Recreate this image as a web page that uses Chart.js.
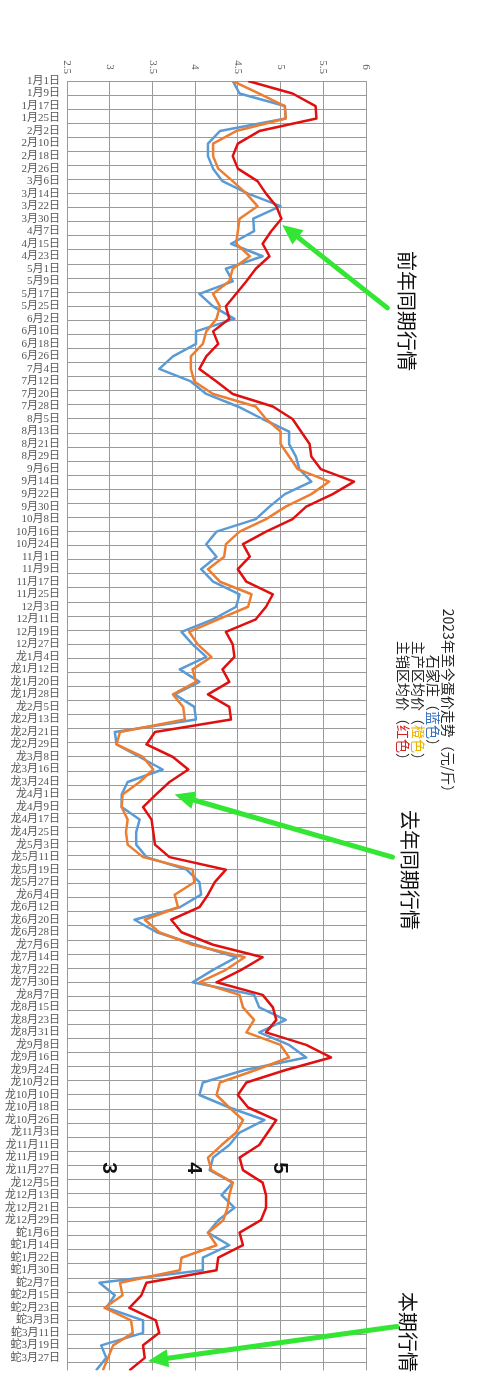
<!DOCTYPE html>
<html>
<head>
<meta charset="utf-8">
<script src="https://cdn.jsdelivr.net/npm/chart.js@4.4.1/dist/chart.umd.min.js"></script>
<style>
  html, body { margin: 0; padding: 0; background: #fff; }
  canvas { display: block; }
</style>
</head>
<body>
<canvas id="chart" width="500" height="1384"></canvas>
<script>
// tick labels, one every 8 days
const dayLabels = [
  '1月1日','1月9日','1月17日','1月25日','2月2日','2月10日','2月18日','2月26日','3月6日','3月14日','3月22日','3月30日',
  '4月7日','4月15日','4月23日','5月1日','5月9日','5月17日','5月25日','6月2日','6月10日','6月18日','6月26日','7月4日','7月12日',
  '7月20日','7月28日','8月5日','8月13日','8月21日','8月29日','9月6日','9月14日','9月22日','9月30日','10月8日','10月16日','10月24日',
  '11月1日','11月9日','11月17日','11月25日','12月3日','12月11日','12月19日','12月27日','龙1月4日','龙1月12日','龙1月20日','龙1月28日','龙2月5日','龙2月13日',
  '龙2月21日','龙2月29日','龙3月8日','龙3月16日','龙3月24日','龙4月1日','龙4月9日','龙4月17日','龙4月25日','龙5月3日','龙5月11日','龙5月19日','龙5月27日',
  '龙6月4日','龙6月12日','龙6月20日','龙6月28日','龙7月6日','龙7月14日','龙7月22日','龙7月30日','龙8月7日','龙8月15日','龙8月23日','龙8月31日','龙9月8日',
  '龙9月16日','龙9月24日','龙10月2日','龙10月10日','龙10月18日','龙10月26日','龙11月3日','龙11月11日','龙11月19日','龙11月27日','龙12月5日','龙12月13日','龙12月21日',
  '龙12月29日','蛇1月6日','蛇1月14日','蛇1月22日','蛇1月30日','蛇2月7日','蛇2月15日','蛇2月23日','蛇3月3日','蛇3月11日','蛇3月19日','蛇3月27日'
];
const xTicks = [2.5, 3, 3.5, 4, 4.5, 5, 5.5, 6];

// 石家庄 (蓝色)
const blue = [
  4.44,4.52,5.05,5.06,4.29,4.15,4.15,4.21,4.32,4.62,5.0,4.68,
  4.69,4.42,4.79,4.36,4.44,4.05,4.21,4.46,4.01,4.01,3.74,3.58,3.95,
  4.13,4.5,4.79,5.1,5.1,5.18,5.22,5.36,5.05,4.87,4.71,4.25,4.13,
  4.25,4.07,4.21,4.52,4.48,4.21,3.84,3.97,4.13,3.82,4.05,3.76,3.99,4.01,
  3.06,3.08,3.35,3.62,3.21,3.14,3.14,3.35,3.31,3.31,3.43,3.9,4.05,
  4.07,3.82,3.29,3.55,4.01,4.48,4.21,3.97,4.69,4.75,5.06,4.75,5.1,
  5.3,4.58,4.09,4.05,4.4,4.81,4.52,4.4,4.21,4.17,4.44,4.31,4.46,
  4.27,4.15,4.4,4.09,4.09,2.88,3.06,2.96,3.39,3.39,2.9,2.96,2.84
];
// 主产区均价 (橙色)
const orange = [
  4.44,4.75,5.05,5.06,4.48,4.21,4.21,4.27,4.44,4.6,4.73,4.52,
  4.5,4.48,4.64,4.44,4.4,4.21,4.29,4.25,4.13,4.09,3.95,3.95,3.99,
  4.21,4.71,4.83,5.0,5.0,5.1,5.2,5.57,5.36,5.06,4.83,4.52,4.36,
  4.34,4.15,4.29,4.66,4.62,4.27,3.93,4.03,4.19,3.97,4.01,3.74,3.86,3.88,
  3.12,3.08,3.39,3.51,3.35,3.15,3.14,3.21,3.19,3.21,3.39,3.97,3.99,
  3.76,3.8,3.41,3.58,3.97,4.58,4.36,4.05,4.52,4.56,4.69,4.6,5.0,
  5.1,4.71,4.29,4.25,4.4,4.56,4.48,4.31,4.15,4.19,4.44,4.4,4.38,
  4.33,4.15,4.25,3.84,3.82,3.12,3.15,2.94,3.25,3.27,3.04,2.98,2.92
];
// 主销区均价 (红色)
const red = [
  4.62,5.14,5.41,5.42,4.75,4.5,4.44,4.5,4.73,4.83,4.95,5.01,
  4.89,4.79,4.87,4.71,4.6,4.48,4.36,4.4,4.21,4.27,4.13,4.05,4.25,
  4.44,4.91,5.14,5.24,5.34,5.36,5.47,5.86,5.61,5.3,5.14,4.83,4.56,
  4.64,4.5,4.6,4.91,4.83,4.71,4.36,4.44,4.46,4.32,4.4,4.15,4.4,4.42,
  3.53,3.43,3.74,3.92,3.7,3.54,3.39,3.49,3.51,3.53,3.7,4.36,4.23,
  4.15,4.05,3.72,3.84,4.21,4.79,4.54,4.25,4.79,4.91,4.95,4.83,5.3,
  5.59,5.06,4.6,4.5,4.62,4.95,4.85,4.75,4.52,4.56,4.79,4.83,4.83,
  4.77,4.52,4.56,4.27,4.25,3.43,3.37,3.23,3.54,3.58,3.39,3.41,3.23
];

const STEP = 8;       // days between two labels
const GRID_STEP = 9;  // days between two gridlines
const LAST_DAY = (blue.length - 1) * STEP;

const toPoints = arr => arr.map((v, i) => ({ x: v, y: i * STEP }));

const titleLines = [
  [['2023年至今蛋价走势（元/斤）', '#222']],
  [['石家庄（', '#222'], ['蓝色', '#2f6fc0'], ['）', '#222']],
  [['主产区均价（', '#222'], ['橙色', '#e8b400'], ['）', '#222']],
  [['主销区均价（', '#222'], ['红色', '#d42020'], ['）', '#222']]
];
const notes = [
  { text: '前年同期行情', x: 407, y: 311 },
  { text: '去年同期行情', x: 410, y: 870 },
  { text: '本期行情', x: 408, y: 1332 }
];
// arrows in data units [value, day]
const arrows = [
  { from: [6.25, 145], to: [5.02, 92] },
  { from: [6.31, 496], to: [3.76, 456] },
  { from: [6.36, 796], to: [3.45, 818] }
];
const bigNums = ['3', '4', '5'];

const CJK = '"Noto Sans CJK SC", sans-serif';
const LABEL_FONT = '"Liberation Serif", "Noto Sans CJK SC", serif';

function rotSegments(ctx, segs, x, y, font) {
  ctx.save();
  ctx.translate(x, y);
  ctx.rotate(Math.PI / 2);
  ctx.font = font;
  ctx.textBaseline = 'middle';
  ctx.textAlign = 'left';
  let w = 0;
  segs.forEach(s => { w += ctx.measureText(s[0]).width; });
  let cx = -w / 2;
  segs.forEach(s => {
    ctx.fillStyle = s[1];
    ctx.fillText(s[0], cx, 0);
    cx += ctx.measureText(s[0]).width;
  });
  ctx.restore();
}

function drawArrow(ctx, x1, y1, x2, y2) {
  const ang = Math.atan2(y2 - y1, x2 - x1);
  const headLen = 20, headW = 9;
  const bx = x2 - Math.cos(ang) * headLen, by = y2 - Math.sin(ang) * headLen;
  ctx.save();
  ctx.strokeStyle = '#33e633';
  ctx.fillStyle = '#33e633';
  ctx.lineWidth = 5;
  ctx.lineCap = 'round';
  ctx.beginPath();
  ctx.moveTo(x1, y1);
  ctx.lineTo(bx + Math.cos(ang) * 2, by + Math.sin(ang) * 2);
  ctx.stroke();
  ctx.beginPath();
  ctx.moveTo(x2, y2);
  ctx.lineTo(bx + Math.sin(ang) * headW, by - Math.cos(ang) * headW);
  ctx.lineTo(bx - Math.sin(ang) * headW, by + Math.cos(ang) * headW);
  ctx.closePath();
  ctx.fill();
  ctx.restore();
}

const overlay = {
  id: 'overlay',
  afterDraw(chart) {
    const ctx = chart.ctx;
    const xs = chart.scales.x, ys = chart.scales.y;
    // x tick labels, turned like the rest of the picture
    xTicks.forEach(v => {
      rotSegments(ctx, [[String(v), '#595959']], xs.getPixelForValue(v), 67, '11px ' + LABEL_FONT);
    });
    // big axis numbers
    bigNums.forEach(n => {
      rotSegments(ctx, [[n, '#111']], xs.getPixelForValue(Number(n)) - 1, 1168, 'bold 21px "Liberation Sans", Arial, sans-serif');
    });
    // title block
    titleLines.forEach((segs, i) => {
      rotSegments(ctx, segs, 448 - i * 15, 704, '14px ' + CJK);
    });
    notes.forEach(n => {
      rotSegments(ctx, [[n.text, '#111']], n.x, n.y, '20px ' + CJK);
    });
    arrows.forEach(a => {
      drawArrow(ctx,
        xs.getPixelForValue(a.from[0]), ys.getPixelForValue(a.from[1]),
        xs.getPixelForValue(a.to[0]), ys.getPixelForValue(a.to[1]));
    });
  }
};

const lineStyle = { borderWidth: 2.5, pointRadius: 0, fill: false, tension: 0, borderJoinStyle: 'round' };

new Chart(document.getElementById('chart').getContext('2d'), {
  type: 'line',
  data: {
    datasets: [
      { label: '主销区均价', data: toPoints(red), borderColor: '#e01010', ...lineStyle },
      { label: '主产区均价', data: toPoints(orange), borderColor: '#ed7d31', ...lineStyle },
      { label: '石家庄', data: toPoints(blue), borderColor: '#5b9bd5', ...lineStyle }
    ]
  },
  options: {
    responsive: false,
    animation: false,
    indexAxis: 'y',
    layout: { padding: { left: 0, right: 134, top: 0, bottom: 6 } },
    scales: {
      x: {
        type: 'linear',
        position: 'top',
        min: 2.5,
        max: 6,
        afterBuildTicks: s => { s.ticks = xTicks.map(v => ({ value: v })); },
        ticks: { display: false },
        grid: { color: '#9a9a9a', drawTicks: false },
        border: { color: '#9a9a9a' },
        afterFit: s => { s.height = 81; }
      },
      y: {
        type: 'linear',
        position: 'left',
        reverse: true,
        min: 0,
        max: LAST_DAY,
        afterBuildTicks: s => { s.ticks = dayLabels.map((_, i) => ({ value: i * STEP })); },
        ticks: {
          autoSkip: false,
          padding: 7,
          color: '#555',
          font: { family: LABEL_FONT, size: 11 },
          callback: v => dayLabels[Math.round(v / STEP)] ?? ''
        },
        grid: { display: false, drawTicks: false },
        border: { display: false },
        afterFit: s => { s.width = 67; }
      },
      yg: {
        type: 'linear',
        position: 'left',
        reverse: true,
        min: 0,
        max: LAST_DAY,
        afterBuildTicks: s => {
          const t = [];
          for (let d = 0; d <= LAST_DAY; d += GRID_STEP) t.push({ value: d });
          s.ticks = t;
        },
        ticks: { display: false },
        grid: { color: '#9a9a9a', drawTicks: false },
        border: { display: false },
        afterFit: s => { s.width = 0; }
      }
    },
    plugins: {
      legend: { display: false },
      tooltip: { enabled: false }
    }
  },
  plugins: [overlay]
});
</script>
</body>
</html>
